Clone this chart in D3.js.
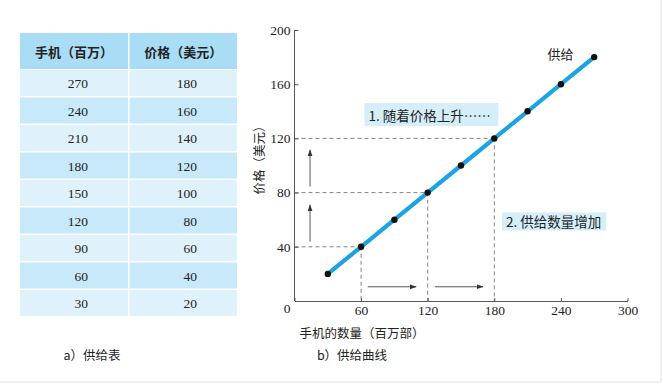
<!DOCTYPE html>
<html>
<head>
<meta charset="utf-8">
<script src="https://cdn.jsdelivr.net/npm/d3@7"></script>
<style>
  body { margin: 0; background: #fff; }
  svg { display: block; }
</style>
</head>
<body>
<div id="chart"></div>
<script>
// supply schedule (millions of phones, price in dollars)
const quantity = [270, 240, 210, 180, 150, 120, 90, 60, 30];
const price = [180, 160, 140, 120, 100, 80, 60, 40, 20];
const headers = ["手机（百万）", "价格（美元）"];
const xTicks = [0, 60, 120, 180, 240, 300];
const yTicks = [40, 80, 120, 160, 200];
// points picked out by the dashed guides
const guideQ = [60, 120, 180];
const guideP = [40, 80, 120];
const notes = ["1. 随着价格上升……", "2. 供给数量增加"];

const SERIF = "'Liberation Serif', 'Times New Roman', 'DejaVu Serif', serif";
const CJK = "'Noto Sans CJK SC', sans-serif";

const width = 663, height = 384;
const svg = d3.select("#chart").append("svg")
  .attr("width", width).attr("height", height);

// frame lines at right / bottom edge
svg.append("rect").attr("x", -1).attr("y", -1).attr("width", 662).attr("height", 383)
  .attr("fill", "none").attr("stroke", "#ececec").attr("stroke-width", 1.5);

function cjk(sel) {
  return sel.attr("font-family", CJK).attr("font-size", 12.5).attr("fill", "#222");
}
function num(sel) {
  return sel.attr("font-family", SERIF).attr("font-size", 13.5).attr("fill", "#222");
}

// ---------- a) table ----------
const tbl = svg.append("g");
const colX = [20, 129.5], colW = [108, 107.5];
const headY = 33, headH = 37, rowH = 27.5;
const rows = quantity.map((q, i) => [q, price[i]]);
const rightEdge = [88, 197];

headers.forEach((h, c) => {
  tbl.append("rect").attr("x", colX[c]).attr("y", headY).attr("width", colW[c]).attr("height", headH - 1)
    .attr("fill", "#a9dcf5");
  tbl.append("text").call(cjk)
    .attr("x", colX[c] + colW[c] / 2).attr("y", headY + headH / 2)
    .attr("text-anchor", "middle").attr("dominant-baseline", "central")
    .attr("font-weight", "bold").attr("font-size", 13).text(h);
});
rows.forEach((r, i) => {
  const y = headY + headH + i * rowH;
  r.forEach((v, c) => {
    tbl.append("rect").attr("x", colX[c]).attr("y", y).attr("width", colW[c]).attr("height", rowH - 1.5)
      .attr("fill", i % 2 ? "#c7e9f9" : "#dff2fc");
    tbl.append("text").call(num)
      .attr("x", rightEdge[c]).attr("y", y + rowH / 2)
      .attr("text-anchor", "end").attr("dominant-baseline", "central").text(v);
  });
});

// ---------- b) supply curve ----------
const x = d3.scaleLinear().domain([0, 300]).range([294.5, 627.5]);
const y = d3.scaleLinear().domain([0, 200]).range([301, 30]);

const gx = svg.append("g").attr("transform", `translate(0,${y(0)})`)
  .call(d3.axisBottom(x).tickValues(xTicks).tickSizeInner(-3).tickSizeOuter(0).tickPadding(4));
const gy = svg.append("g").attr("transform", `translate(${x(0)},0)`)
  .call(d3.axisLeft(y).tickValues(yTicks).tickSizeInner(-4).tickSizeOuter(0).tickPadding(4));
[gx, gy].forEach(g => {
  g.attr("font-family", null).attr("font-size", null);
  g.select(".domain").attr("stroke", "#444").attr("stroke-width", 0.9);
  g.selectAll(".tick line").attr("stroke", "#444").attr("stroke-width", 0.9);
  g.selectAll(".tick text").call(num);
});
gx.selectAll(".tick").filter(d => d === 0).select("text").attr("dx", -8).attr("dy", "0.6em");
gy.select(".domain").attr("d", `M0,${y(200)}V${y(0)}`);

// dashed guides
const dash = svg.append("g").attr("stroke", "#666").attr("stroke-width", 0.8)
  .attr("stroke-dasharray", "4,3").attr("fill", "none");
guideQ.forEach((q, i) => {
  dash.append("line").attr("x1", x(0)).attr("x2", x(q)).attr("y1", y(guideP[i])).attr("y2", y(guideP[i]));
  dash.append("line").attr("x1", x(q)).attr("x2", x(q)).attr("y1", y(guideP[i])).attr("y2", y(0));
});

// arrows
svg.append("defs").append("marker").attr("id", "ah")
  .attr("viewBox", "0 0 10 10").attr("refX", 9).attr("refY", 5)
  .attr("markerWidth", 7).attr("markerHeight", 7).attr("orient", "auto-start-reverse")
  .attr("markerUnits", "userSpaceOnUse")
  .append("path").attr("d", "M0,1.5L10,5L0,8.5Z").attr("fill", "#333");
const arr = svg.append("g").attr("stroke", "#444").attr("stroke-width", 0.9);
const ax = x(14);
[[43.8, 70.8], [84.4, 111.4]].forEach(([a, b]) => {
  arr.append("line").attr("x1", ax).attr("x2", ax).attr("y1", y(a)).attr("y2", y(b)).attr("marker-end", "url(#ah)");
});
const ay = y(10.5);
[[66, 109.5], [126.6, 169.8]].forEach(([a, b]) => {
  arr.append("line").attr("y1", ay).attr("y2", ay).attr("x1", x(a)).attr("x2", x(b)).attr("marker-end", "url(#ah)");
});

// supply line and points
const pts = quantity.map((q, i) => ({ q, p: price[i] })).sort((a, b) => a.q - b.q);
svg.append("path").datum(pts)
  .attr("d", d3.line().x(d => x(d.q)).y(d => y(d.p)))
  .attr("stroke", "#1ba3e2").attr("stroke-width", 4.2).attr("fill", "none");
svg.append("g").selectAll("circle").data(pts).join("circle")
  .attr("cx", d => x(d.q)).attr("cy", d => y(d.p)).attr("r", 3.2).attr("fill", "#111");

// note boxes
const boxes = [
  { q: 63, p: 137.6, w: 134, h: 23 },
  { q: 187, p: 58.7, w: 104, h: 18 }
];
boxes.forEach((b, i) => {
  svg.append("rect").attr("x", x(b.q)).attr("y", y(b.p) - b.h / 2).attr("width", b.w).attr("height", b.h)
    .attr("fill", "#d4eefa");
  svg.append("text").call(cjk).attr("font-size", 13.5).attr("x", x(b.q) + 4).attr("y", y(b.p))
    .attr("dominant-baseline", "central").text(notes[i]);
});

svg.append("text").call(cjk).attr("font-size", 13).attr("x", x(228)).attr("y", y(183))
  .attr("dominant-baseline", "central").text("供给");

// axis titles
svg.append("text").call(cjk).attr("x", 362).attr("y", 332)
  .attr("text-anchor", "middle").attr("dominant-baseline", "central").text("手机的数量（百万部）");
svg.append("text").call(cjk).attr("transform", "translate(258,157) rotate(-90)")
  .attr("text-anchor", "middle").attr("dominant-baseline", "central").text("价格（美元）");

// captions
svg.append("text").call(cjk).attr("x", 92).attr("y", 354)
  .attr("text-anchor", "middle").attr("dominant-baseline", "central").text("a）供给表");
svg.append("text").call(cjk).attr("x", 352).attr("y", 354)
  .attr("text-anchor", "middle").attr("dominant-baseline", "central").text("b）供给曲线");
</script>
</body>
</html>
